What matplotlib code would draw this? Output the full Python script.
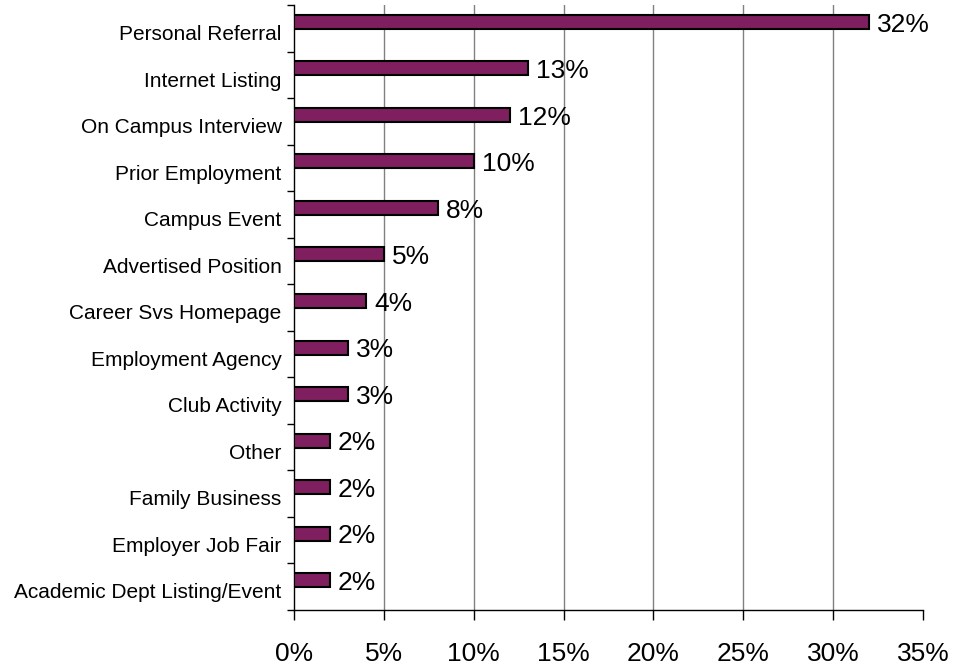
import numpy as np
import matplotlib.pyplot as plt
from matplotlib.ticker import FixedLocator

plt.rcParams['font.family'] = ['Liberation Sans', 'DejaVu Sans']

categories = ["Personal Referral", "Internet Listing", "On Campus Interview",
              "Prior Employment", "Campus Event", "Advertised Position",
              "Career Svs Homepage", "Employment Agency", "Club Activity",
              "Other", "Family Business", "Employer Job Fair",
              "Academic Dept Listing/Event"]
values = [32, 13, 12, 10, 8, 5, 4, 3, 3, 2, 2, 2, 2]
xticks = [0, 5, 10, 15, 20, 25, 30, 35]

fig = plt.figure(figsize=(9.55, 6.68), dpi=100)
ax = fig.add_axes([0.3079, 0.0868, 0.6586, 0.9057])

n = len(categories)
y = np.arange(n)[::-1]
# bars sit a bit above the middle of each slot
ax.barh(y + 0.14, values, height=0.3, color="#7f1f5f", edgecolor="black", linewidth=1.5, zorder=3)

for yi, v in zip(y, values):
    ax.text(v + 0.45, yi + 0.08, f"{v}%", va="center", ha="left", fontsize=19)

ax.set_xlim(0, 35)
ax.set_ylim(-0.5, n - 0.5)
ax.set_xticks(xticks)
ax.set_xticklabels([f"{t}%" for t in xticks], fontsize=19)
ax.tick_params(axis="x", length=7, width=1, color="black", pad=16)

ax.set_yticks(y - 0.09)
ax.set_yticklabels(categories, fontsize=15)
ax.tick_params(axis="y", which="major", length=0, pad=9)
ax.yaxis.set_minor_locator(FixedLocator(np.arange(n + 1) - 0.5))
ax.tick_params(axis="y", which="minor", length=5, width=1, color="black")

for t in xticks[1:-1]:
    ax.axvline(t, color="#808080", linewidth=1, zorder=1)

ax.spines["top"].set_visible(False)
ax.spines["right"].set_visible(False)
ax.spines["left"].set_linewidth(1)
ax.spines["bottom"].set_linewidth(1)

fig.savefig("out.png", dpi=100)
